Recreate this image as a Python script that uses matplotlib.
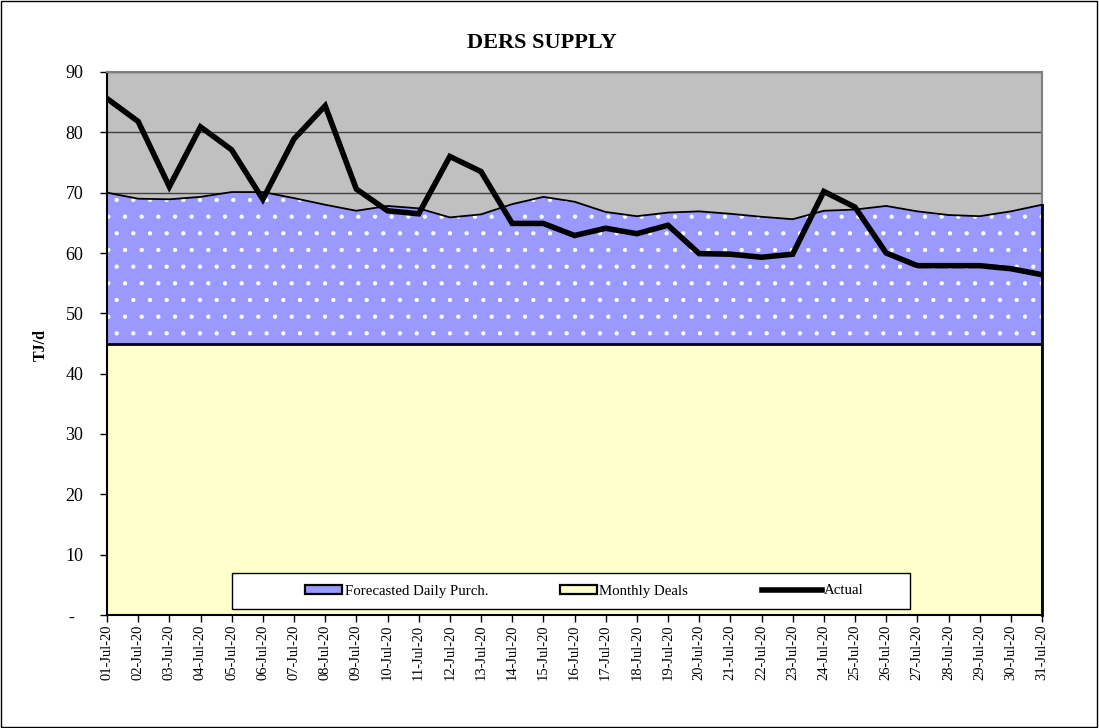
import matplotlib.pyplot as plt
from matplotlib.patches import Patch, Rectangle
from matplotlib.lines import Line2D

plt.rcParams['font.family'] = ['Liberation Serif', 'DejaVu Serif']
plt.rcParams['hatch.linewidth'] = 0.65

# data
days = ["%02d-Jul-20" % d for d in range(1, 32)]
monthly_deals = [45] * 31
forecast_total = [70.0, 69.0, 68.9, 69.3, 70.1, 70.1, 69.1, 68.0, 67.0, 67.8,
                  67.4, 65.9, 66.4, 68.1, 69.3, 68.5, 66.8, 66.1, 66.7, 66.9,
                  66.5, 66.0, 65.6, 67.0, 67.2, 67.8, 66.9, 66.3, 66.1, 66.9,
                  68.0]
forecast_daily = [t - m for t, m in zip(forecast_total, monthly_deals)]
actual = [85.6, 81.8, 71.0, 80.9, 77.1, 68.9, 78.9, 84.4, 70.6, 67.0,
          66.5, 76.0, 73.5, 64.9, 64.9, 62.9, 64.1, 63.2, 64.6, 59.9,
          59.8, 59.3, 59.8, 70.2, 67.6, 60.0, 57.9, 57.9, 57.9, 57.4,
          56.4]

blue = "#9999FF"
yellow = "#FFFFCC"

W, H = 1099, 728
fig = plt.figure(figsize=(W / 100, H / 100), dpi=100)
ax = fig.add_axes([107 / W, 1 - 615 / H, 935 / W, 543 / H])
ax.set_facecolor("#C0C0C0")

x = list(range(len(days)))
top = [m + f for m, f in zip(monthly_deals, forecast_daily)]

# gridlines behind areas
ax.set_axisbelow(True)
ax.yaxis.grid(True, color="#404040", linewidth=1.0)

# stacked areas
ax.fill_between(x, 0, monthly_deals, facecolor=yellow, edgecolor="none", zorder=2)
ax.fill_between(x, monthly_deals, top, facecolor=blue, edgecolor="none", zorder=2)
ax.fill_between(x, monthly_deals, top, facecolor="none", edgecolor="white",
                hatch=".", linewidth=0, zorder=2.1)
ax.plot(x, top, color="black", linewidth=1.3, zorder=3)
ax.plot(x, monthly_deals, color="black", linewidth=2, zorder=3)
ax.plot([x[-1], x[-1]], [0, top[-1]], color="black", linewidth=2, zorder=5,
        clip_on=False)

# actual
ax.plot(x, actual, color="black", linewidth=4, solid_joinstyle="miter", zorder=4)

ax.set_xlim(0, len(days) - 1)
ax.set_ylim(0, 90)
ax.set_yticks(range(0, 91, 10))
ax.set_yticklabels(["-  "] + [str(v) for v in range(10, 91, 10)], fontsize=13)
ax.set_xticks(x)
ax.set_xticklabels(days, rotation=90, fontsize=10.5)
ax.tick_params(axis="both", direction="out", length=5, color="black", width=1)
ax.tick_params(axis="y", pad=12)
ax.tick_params(axis="x", pad=2)

for side in ["top", "right"]:
    ax.spines[side].set_color("#808080")
    ax.spines[side].set_linewidth(1.5)
for side in ["left", "bottom"]:
    ax.spines[side].set_color("black")
    ax.spines[side].set_linewidth(1.5)

fig.text(41 / W, 1 - 345 / H, "TJ/d", rotation=90, ha="center", va="center",
         fontsize=11.5, fontweight="bold")
fig.text(542 / W, 1 - 43 / H, "DERS SUPPLY", ha="center", va="center",
         fontsize=16, fontweight="bold")

# legend frame
ax.add_patch(Rectangle((232 / W, 1 - 609 / H), 678 / W, 36 / H,
                       transform=fig.transFigure, facecolor="white",
                       edgecolor="black", linewidth=1.0, zorder=6))

blue_handle = (Patch(facecolor=blue, edgecolor="white", hatch=".", linewidth=0),
               Patch(facecolor="none", edgecolor="black", linewidth=1.6))
yellow_handle = Patch(facecolor=yellow, edgecolor="black", linewidth=1.6)
line_handle = Line2D([0], [0], color="black", linewidth=4)

common = dict(frameon=False, fontsize=10.75, handleheight=0.55,
              handletextpad=0.15, borderaxespad=0, borderpad=0,
              loc="center left")
leg1 = fig.legend([blue_handle, yellow_handle],
                  ["Forecasted Daily Purch.", "Monthly Deals"], ncol=2,
                  handlelength=2.5, columnspacing=4.8,
                  bbox_to_anchor=(305 / W, 1 - 591 / H), **common)
leg1.set_zorder(7)
leg2 = fig.legend([line_handle], ["Actual"], handlelength=4.0,
                  bbox_to_anchor=(762 / W, 1 - 591 / H), **common)
leg2.set_zorder(7)

fig.add_artist(Rectangle((0.0005, 0.0007), 0.998, 0.998, transform=fig.transFigure,
                         fill=False, edgecolor="black", linewidth=1))

fig.savefig("out.png", dpi=100)
